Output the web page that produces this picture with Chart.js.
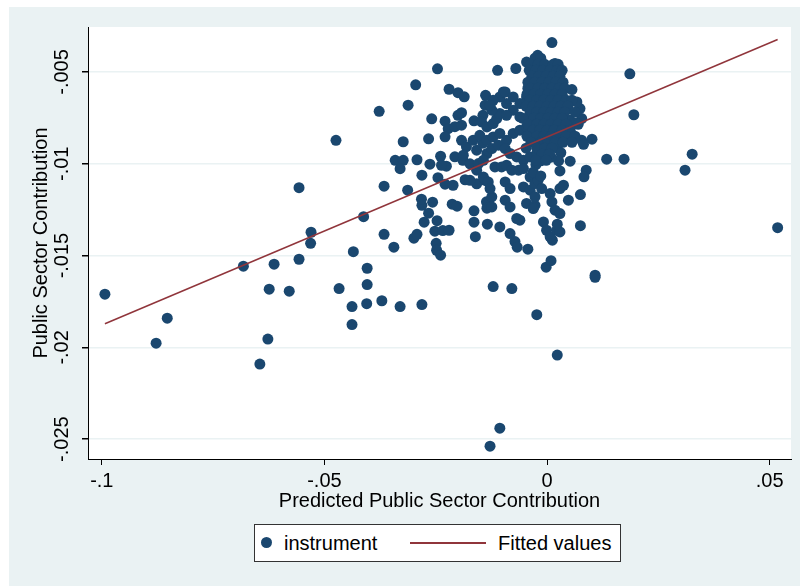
<!DOCTYPE html>
<html>
<head>
<meta charset="utf-8">
<script src="https://cdn.jsdelivr.net/npm/chart.js@4.4.1/dist/chart.umd.min.js"></script>
<style>
  body { margin: 0; background: #fff; }
  #wrap { position: relative; width: 800px; height: 586px; }
  #legend {
    position: absolute; left: 254px; top: 524px; width: 367px; height: 38px;
    box-sizing: border-box; border: 1px solid #333; background: #fff;
    font: 20px "Liberation Sans", Arial, sans-serif; color: #000;
  }
  #legend .dot { position: absolute; left: 6px; top: 12px; width: 11px; height: 11px; border-radius: 50%; background: #1a476f; }
  #legend .line { position: absolute; left: 155px; top: 17px; width: 76px; height: 1.5px; background: #90353b; }
  #legend .lbl { position: absolute; top: 6px; line-height: 24px; }
</style>
</head>
<body>
<div id="wrap">
  <canvas id="chart" width="800" height="586"></canvas>
  <div id="legend">
    <span class="dot"></span><span class="lbl" style="left:29px">instrument</span>
    <span class="line"></span><span class="lbl" style="left:243px">Fitted values</span>
  </div>
</div>
<script>
// Axis ticks
const xTicks = [-0.1, -0.05, 0, 0.05];
const xTickLabels = ['-.1', '-.05', '0', '.05'];
const yTicks = [-0.025, -0.02, -0.015, -0.01, -0.005];
const yTickLabels = ['-.025', '-.02', '-.015', '-.01', '-.005'];

// Fitted values line (end points)
const fitX = [-0.0993, 0.0518];
const fitY = [-0.01871, -0.00323];

const outerPoints = [
  [-0.0993,-0.0171],[-0.0878,-0.01977],[-0.0853,-0.01841],[-0.0682,-0.01558],[-0.0645,-0.02091],[-0.0627,-0.01955],[-0.0624,-0.01683],[-0.0613,-0.01547],
  [-0.0579,-0.01694],[-0.0557,-0.0152],[-0.0557,-0.0113],[-0.0530,-0.01373],[-0.0531,-0.01433],[-0.0474,-0.00872],[-0.0467,-0.0168],[-0.0438,-0.01778],
  [-0.0438,-0.01876],[-0.0435,-0.01479],[-0.0412,-0.01288],[-0.0405,-0.01762],[-0.0404,-0.01569],[-0.0404,-0.01658],[-0.0377,-0.00714],[-0.0371,-0.01746],
  [-0.0366,-0.01122],[-0.0366,-0.01384],[-0.0344,-0.01454],[-0.0330,-0.01778],[-0.0312,-0.00681],[-0.0295,-0.0057],[-0.0281,-0.01767],[-0.0246,-0.00483],
  [-0.0323,-0.0088],[-0.0313,-0.01144],[-0.0128,-0.02538],[-0.0106,-0.0244],[-0.0023,-0.01822],[0.0023,-0.02042],[0.0108,-0.01607],[0.0108,-0.01618],
  [-0.0121,-0.01669],[-0.0079,-0.0168],[-0.0002,-0.01563],[0.0009,-0.01528],[0.0518,-0.01348],[0.0310,-0.01035],[0.0326,-0.00948],[0.0134,-0.00975],
  [0.0173,-0.00975],[0.0186,-0.0051],[0.0195,-0.00733],[0.0101,-0.00866],[0.0075,-0.01337],[0.0075,-0.01168],[0.0088,-0.01035],[0.0083,-0.01071]
];
const midPoints = [
  [-0.0299,-0.01405],[-0.0292,-0.01384],[-0.0276,-0.01318],[-0.0266,-0.01269],[-0.0281,-0.01226],[-0.0257,-0.01209],[-0.0247,-0.0131],[-0.0252,-0.01367],
  [-0.0234,-0.01364],[-0.0220,-0.01362],[-0.0249,-0.01433],[-0.0248,-0.01471],[-0.0239,-0.01498],[-0.0213,-0.0122],[-0.0202,-0.01231],[-0.0164,-0.01256],
  [-0.0164,-0.01318],[-0.0161,-0.01397],[-0.0134,-0.01329],[-0.0136,-0.01207],[-0.0072,-0.01424],[-0.0067,-0.01454],[-0.0043,-0.01465],[0.0012,-0.01416],
  [-0.0282,-0.01193],
  [-0.0220,-0.00594],[-0.0200,-0.00613],[-0.0186,-0.00635],[-0.0138,-0.00627],[-0.0266,-0.00864],[-0.0259,-0.00755],[-0.0229,-0.00768],[-0.0200,-0.00736],
  [-0.0192,-0.00722],[-0.0222,-0.00809],[-0.0207,-0.00798],[-0.0192,-0.0079],[-0.0229,-0.00853],[-0.0164,-0.00766],[-0.0341,-0.00981],[-0.0323,-0.00981],
  [-0.0330,-0.01027],[-0.0292,-0.00978],[-0.0263,-0.01002],[-0.0239,-0.00959],[-0.0226,-0.01013],[-0.0207,-0.00962],[-0.0189,-0.00981],[-0.0173,-0.01],
  [-0.0158,-0.01035],[-0.0281,-0.01062],[-0.0245,-0.01076],[-0.0229,-0.01111],[-0.0211,-0.01117],[-0.0184,-0.01087],[-0.0158,-0.01109],[-0.0139,-0.0109],
  [-0.0192,-0.00872],[-0.0181,-0.00907],[-0.0166,-0.00872],[-0.0158,-0.00926],[-0.0144,-0.00888],[-0.0144,-0.00736],[-0.0139,-0.00681],[-0.0135,-0.01242]
];
const nearZeroPoints = [
  [-0.0147,-0.00772],[-0.0135,-0.00799],[-0.0121,-0.00781],[-0.0113,-0.00754],[-0.0106,-0.00726],[-0.0124,-0.00708],[-0.0151,-0.00845],[-0.0135,-0.00872],
  [-0.0121,-0.00854],[-0.0106,-0.00835],[-0.0091,-0.00872],[-0.0076,-0.00835],[-0.0061,-0.00817],[-0.0046,-0.00799],[-0.0038,-0.00763],[-0.0061,-0.00745],
  [-0.0076,-0.00708],[-0.0091,-0.00672],[-0.0106,-0.00636],[-0.0121,-0.00654],[-0.0098,-0.00609],[-0.0046,-0.00636],[-0.0031,-0.00672],[-0.0061,-0.00672],
  [-0.0135,-0.00944],[-0.0124,-0.00917],[-0.0109,-0.00899],[-0.0094,-0.00917],[-0.0083,-0.00944],[-0.0068,-0.00963],[-0.0053,-0.00981],[-0.0038,-0.00963],
  [-0.0023,-0.00944],[-0.0117,-0.01017],[-0.0102,-0.01017],[-0.0091,-0.01008],[-0.0079,-0.01035],[-0.0064,-0.01035],[-0.0053,-0.01026],[-0.0038,-0.01072],
  [-0.0094,-0.01099],[-0.0083,-0.01135],[-0.0053,-0.01126],[-0.0038,-0.01144],[-0.0027,-0.01108],[-0.0124,-0.0118],[-0.0094,-0.01198],[-0.0083,-0.01235],
  [-0.0046,-0.01216],[-0.0027,-0.01226],[-0.0237,-0.01008],[-0.0188,-0.00953],[-0.0154,-0.00999],[-0.0143,-0.00981],[-0.0173,-0.0109],[-0.0143,-0.01072],
  [-0.0132,-0.01099],
  [-0.0094,-0.00609],[-0.0128,-0.00681],[-0.0076,-0.00636],[-0.0038,-0.00699],[-0.0091,-0.00736],[-0.0111,-0.00491],[-0.0070,-0.00481],[-0.0046,-0.00446],
  [-0.0021,-0.00409],[0.0011,-0.0034],[0.0018,-0.00454],[0.0056,-0.00596],[0.0074,-0.00699],[0.0067,-0.00663],[0.0052,-0.00763],[0.0078,-0.00754],
  [0.0078,-0.00872],[0.0082,-0.00894],[0.0052,-0.00986],[0.0029,-0.01039],[0.0066,-0.00779],[0.0043,-0.00832],
  [-0.0128,-0.01135],[-0.0124,-0.01235],[-0.0020,-0.0109],[-0.0012,-0.01135],[-0.0027,-0.0118],[-0.0031,-0.01244],[0.0007,-0.01162],[0.0011,-0.01208],
  [0.0018,-0.01253],[0.0029,-0.01271],[0.0029,-0.01135],[0.0037,-0.01117],[0.0048,-0.01198],[-0.0068,-0.01298],[-0.0061,-0.01307],[-0.0106,-0.01344],
  [-0.0008,-0.01317],[-0.0001,-0.01362],[0.0007,-0.01398],[0.0022,-0.01362],[-0.0083,-0.0138],[0.0029,-0.01371],[0.0023,-0.01329],
  [0.0023,-0.00913],[0.0031,-0.0094],[0.0026,-0.00984],[0.0009,-0.00964],[-0.0014,-0.00984],[-0.0025,-0.01005],[-0.0031,-0.01046],[-0.0014,-0.01066],
  [-0.0043,-0.00588]
];
// the dense clump just right of zero
const clumpPoints = [
  [-0.0027,-0.00425],[-0.0014,-0.00425],
  [-0.0036,-0.00458],[-0.002,-0.00458],[-0.0005,-0.00458],[0.0014,-0.00458],[0.0025,-0.00458],
  [-0.004,-0.00491],[-0.0025,-0.00491],[-0.0009,-0.00491],[0.0007,-0.00491],[0.0023,-0.00491],[0.0034,-0.00491],
  [-0.0034,-0.00523],[-0.0018,-0.00523],[-0.0002,-0.00523],[0.0014,-0.00523],[0.0029,-0.00523],
  [-0.0043,-0.00556],[-0.0027,-0.00556],[-0.0011,-0.00556],[0.0005,-0.00556],[0.002,-0.00556],[0.0036,-0.00556],
  [-0.0036,-0.00589],[-0.002,-0.00589],[-0.0005,-0.00589],[0.0011,-0.00589],[0.0027,-0.00589],[0.004,-0.00589],
  [-0.0045,-0.00621],[-0.0029,-0.00621],[-0.0014,-0.00621],[0.0002,-0.00621],[0.0018,-0.00621],[0.0034,-0.00621],
  [-0.0038,-0.00654],[-0.0023,-0.00654],[-0.0007,-0.00654],[0.0009,-0.00654],[0.0025,-0.00654],[0.0043,-0.00654],[0.0056,-0.00654],
  [-0.0047,-0.00687],[-0.0031,-0.00687],[-0.0016,-0.00687],[0,-0.00687],[0.0016,-0.00687],[0.0031,-0.00687],[0.0047,-0.00687],
  [-0.0038,-0.00719],[-0.0023,-0.00719],[-0.0007,-0.00719],[0.0009,-0.00719],[0.0025,-0.00719],[0.004,-0.00719],[0.0063,-0.00719],
  [-0.0054,-0.00752],[-0.0029,-0.00752],[-0.0014,-0.00752],[0.0002,-0.00752],[0.0018,-0.00752],[0.0034,-0.00752],
  [-0.0043,-0.00785],[-0.0023,-0.00785],[-0.0007,-0.00785],[0.0009,-0.00785],[0.0025,-0.00785],[0.0043,-0.00785],[0.007,-0.00785],
  [-0.0031,-0.00817],[-0.0016,-0.00817],[0,-0.00817],[0.0016,-0.00817],[0.0034,-0.00817],[0.0052,-0.00817],
  [-0.0045,-0.0085],[-0.0023,-0.0085],[-0.0007,-0.0085],[0.0009,-0.0085],[0.0025,-0.0085],[0.0043,-0.0085],[0.0063,-0.0085],
  [-0.0036,-0.00883],[-0.0014,-0.00883],[0.0002,-0.00883],[0.0018,-0.00883],[0.0036,-0.00883],[0.0056,-0.00883],
  [-0.0047,-0.00915],[-0.0023,-0.00915],[-0.0005,-0.00915],[0.0011,-0.00915],
  [-0.0011,-0.00948],[0.0005,-0.00948],
  [-0.0025,-0.00981],[-0.0002,-0.00981]
];

const stataFont = { family: '"Liberation Sans", Arial, sans-serif', size: 20 };

// light outer background with a white plot region, as in Stata's s2color scheme
const backdrop = {
  id: 'backdrop',
  beforeDraw(chart) {
    const { ctx, chartArea: a } = chart;
    ctx.save();
    ctx.fillStyle = '#eaf2f3';
    ctx.fillRect(9, 7, chart.width - 9, chart.height - 7);
    ctx.fillStyle = '#ffffff';
    ctx.fillRect(a.left, a.top, a.right - a.left, a.bottom - a.top);
    ctx.restore();
  }
};

const scatterData = outerPoints.concat(midPoints, nearZeroPoints, clumpPoints).map(p => ({ x: p[0], y: p[1] }));
const fitData = fitX.map((x, i) => ({ x: x, y: fitY[i] }));

new Chart(document.getElementById('chart').getContext('2d'), {
  type: 'scatter',
  data: {
    datasets: [
      {
        label: 'Fitted values',
        data: fitData,
        showLine: true,
        borderColor: '#90353b',
        borderWidth: 1.5,
        pointRadius: 0,
        order: 0
      },
      {
        label: 'instrument',
        data: scatterData,
        backgroundColor: '#1a476f',
        borderWidth: 0,
        pointRadius: 5.5,
        order: 1
      }
    ]
  },
  options: {
    responsive: false,
    animation: false,
    events: [],
    layout: { padding: { top: 27, right: 9, bottom: 0, left: 0 } },
    plugins: { legend: { display: false }, tooltip: { enabled: false } },
    scales: {
      x: {
        type: 'linear',
        min: -0.1031,
        max: 0.0548,
        afterBuildTicks: s => { s.ticks = xTicks.map(v => ({ value: v })); },
        afterFit: s => { s.height = 127; },
        ticks: {
          callback: v => xTickLabels[xTicks.indexOf(v)],
          autoSkip: false, maxRotation: 0, padding: 4,
          font: stataFont, color: '#000'
        },
        grid: { drawOnChartArea: false, tickLength: 6, tickColor: '#000' },
        border: { color: '#000', width: 1 },
        title: {
          display: true, text: 'Predicted Public Sector Contribution',
          font: stataFont, color: '#000', padding: { top: 0, bottom: 73 }
        }
      },
      y: {
        type: 'linear',
        min: -0.02608,
        max: -0.00255,
        afterBuildTicks: s => { s.ticks = yTicks.map(v => ({ value: v })); },
        afterFit: s => { s.width = 88; },
        ticks: {
          callback: v => yTickLabels[yTicks.indexOf(v)],
          autoSkip: false, minRotation: 90, maxRotation: 90,
          crossAlign: 'center', padding: -3,
          font: stataFont, color: '#000'
        },
        grid: { color: '#eaf2f3', lineWidth: 1.5, tickLength: 6, tickColor: '#000' },
        border: { color: '#000', width: 1 },
        title: {
          display: true, text: 'Public Sector Contribution',
          font: stataFont, color: '#000', padding: { top: 29, bottom: 0 }
        }
      }
    }
  },
  plugins: [backdrop]
});
</script>
</body>
</html>
